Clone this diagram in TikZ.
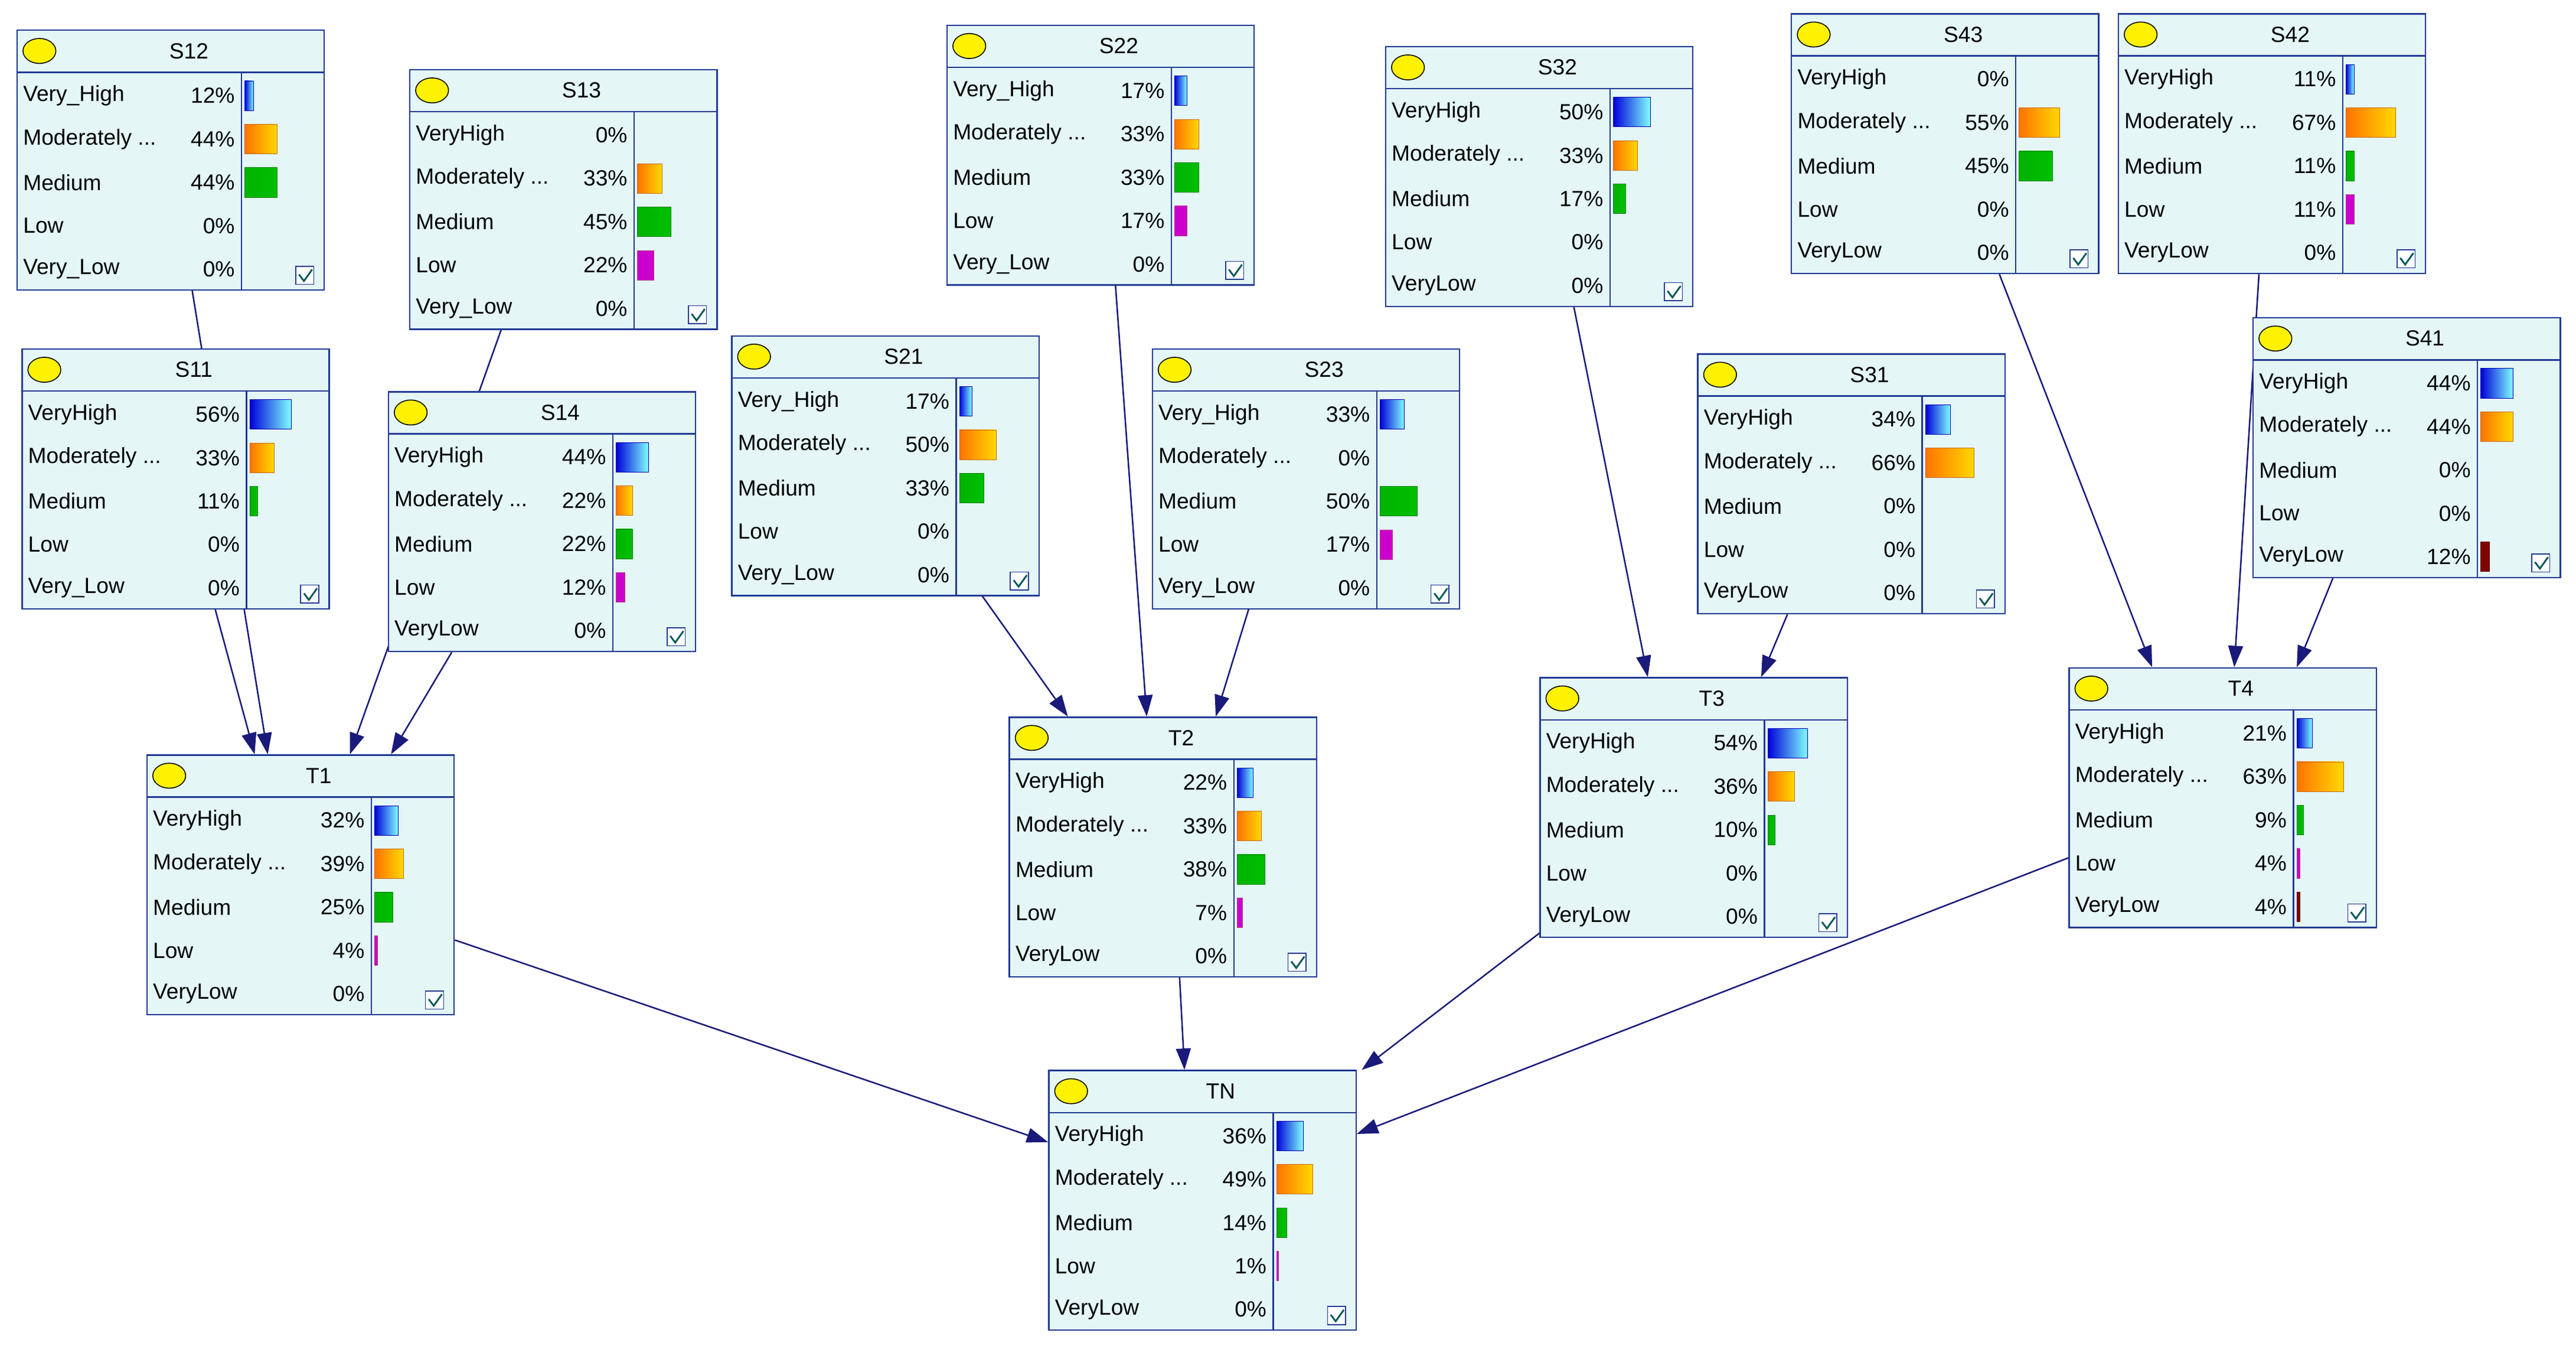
\documentclass[tikz,border=0pt]{standalone}
\usepackage{fontspec}
\setmainfont{Liberation Sans}
\usetikzlibrary{arrows.meta,calc,backgrounds}
\definecolor{bg}{HTML}{E4F6F6}
\definecolor{bd}{HTML}{1F3A93}
\definecolor{edgec}{HTML}{1A1A7A}
\newcommand\modl{Moderately ...}
\tikzset{
 x=0.05cm,y=-0.05cm,
 box/.style={draw=bd, line width=1.2pt, fill=bg, minimum width=9.35cm, minimum height=7.9cm, anchor=north west, inner sep=0},
 lab/.style={font=\fontsize{19}{23}\selectfont, inner sep=0},
 edge/.style={draw=edgec, line width=1.3pt, -{Triangle[length=0.65cm,width=0.45cm]}},
 bar1/.style={left color=blue!85!black,right color=cyan!50,draw=blue!70!black},
 bar2/.style={left color=orange!90!red,right color=yellow!70!orange,draw=orange!80!black},
 bar3/.style={left color=green!70!black,right color=green!75!black,draw=green!50!black},
 bar4/.style={left color=magenta!80!black,right color=magenta!80!black,draw=magenta!70!black},
 bar5/.style={left color=red!50!black,right color=red!50!black,draw=red!40!black},
}
\newcommand\bnnode[5]{%
 \node[box] (#1) at (#2,#3) {};
 \begin{scope}[shift={(#2,#3)}]
  \draw[bd,line width=1.2pt] (0,26)--(187,26) (137,26)--(137,158);
  \draw[fill=yellow, draw=black, line width=0.8pt] (14,13) ellipse [x radius=0.5cm, y radius=0.38cm];
  \node[lab] at (105,13) {#4};
  \foreach \l/\p [count=\i] in {#5} {
    \pgfmathsetmacro\yy{27+(\i-0.5)*26.4}
    \node[lab,anchor=west] at (4,\yy) {\l};
    \node[lab,anchor=east] at (133,\yy) {\p\%};
    \ifnum\p>0
      \pgfmathsetmacro\w{max(\p*0.45,1.2)}
      \begingroup\edef\x{\noexpand\path[bar\i]}\x (139,\yy-9) rectangle ++(\w,18);\endgroup
    \fi
  }
  \draw[bd,fill=white,line width=0.8pt] (170,144) rectangle (181,155);
  \draw[teal!70!black,line width=1.5pt] (172,149)--(175,153)--(180,146);
 \end{scope}}
\begin{document}
\begin{tikzpicture}
\useasboundingbox (0,0) rectangle (1568,819);
\bnnode{S12}{10}{18}{S12}{Very\_High/12,\modl/44,Medium/44,Low/0,Very\_Low/0}
\bnnode{S11}{13}{212}{S11}{VeryHigh/56,\modl/33,Medium/11,Low/0,Very\_Low/0}
\bnnode{S13}{249}{42}{S13}{VeryHigh/0,\modl/33,Medium/45,Low/22,Very\_Low/0}
\bnnode{S14}{236}{238}{S14}{VeryHigh/44,\modl/22,Medium/22,Low/12,VeryLow/0}
\bnnode{T1}{89}{459}{T1}{VeryHigh/32,\modl/39,Medium/25,Low/4,VeryLow/0}
\bnnode{S22}{576}{15}{S22}{Very\_High/17,\modl/33,Medium/33,Low/17,Very\_Low/0}
\bnnode{S21}{445}{204}{S21}{Very\_High/17,\modl/50,Medium/33,Low/0,Very\_Low/0}
\bnnode{S23}{701}{212}{S23}{Very\_High/33,\modl/0,Medium/50,Low/17,Very\_Low/0}
\bnnode{T2}{614}{436}{T2}{VeryHigh/22,\modl/33,Medium/38,Low/7,VeryLow/0}
\bnnode{S32}{843}{28}{S32}{VeryHigh/50,\modl/33,Medium/17,Low/0,VeryLow/0}
\bnnode{S31}{1033}{215}{S31}{VeryHigh/34,\modl/66,Medium/0,Low/0,VeryLow/0}
\bnnode{T3}{937}{412}{T3}{VeryHigh/54,\modl/36,Medium/10,Low/0,VeryLow/0}
\bnnode{S43}{1090}{8}{S43}{VeryHigh/0,\modl/55,Medium/45,Low/0,VeryLow/0}
\bnnode{S42}{1289}{8}{S42}{VeryHigh/11,\modl/67,Medium/11,Low/11,VeryLow/0}
\bnnode{S41}{1371}{193}{S41}{VeryHigh/44,\modl/44,Medium/0,Low/0,VeryLow/12}
\bnnode{T4}{1259}{406}{T4}{VeryHigh/21,\modl/63,Medium/9,Low/4,VeryLow/4}
\bnnode{TN}{638}{651}{TN}{VeryHigh/36,\modl/49,Medium/14,Low/1,VeryLow/0}
\begin{pgfonlayer}{background}
\fill[white] (0,0) rectangle (1568,819);
\path[edge] ($(S12.south west)+(107,0)$) -- ($(T1.north west)+(74,0)$);
\path[edge] ($(S11.south west)+(118,0)$) -- ($(T1.north west)+(66,0)$);
\path[edge] ($(S13.south west)+(56,0)$) -- ($(T1.north west)+(124,0)$);
\path[edge] ($(S14.south west)+(39,0)$) -- ($(T1.north west)+(149,0)$);
\path[edge] ($(S21.south west)+(153,0)$) -- ($(T2.north west)+(36,0)$);
\path[edge] ($(S22.south west)+(103,0)$) -- ($(T2.north west)+(84,0)$);
\path[edge] ($(S23.south west)+(59,0)$) -- ($(T2.north west)+(126,0)$);
\path[edge] ($(S32.south west)+(115,0)$) -- ($(T3.north west)+(66,0)$);
\path[edge] ($(S31.south west)+(55,0)$) -- ($(T3.north west)+(135,0)$);
\path[edge] ($(S43.south west)+(127,0)$) -- ($(T4.north west)+(51,0)$);
\path[edge] ($(S42.south west)+(86,0)$) -- ($(T4.north west)+(101,0)$);
\path[edge] ($(S41.south west)+(49,0)$) -- ($(T4.north west)+(139,0)$);
\path[edge] ($(T1.north east)+(0,113)$) -- ($(TN.north west)+(0,44)$);
\path[edge] ($(T2.south west)+(104,0)$) -- ($(TN.north west)+(83,0)$);
\path[edge] ($(T3.south west)+(0,-3)$) -- ($(TN.north east)+(3,0)$);
\path[edge] ($(T4.north west)+(0,116)$) -- ($(TN.north east)+(0,39)$);
\end{pgfonlayer}
\end{tikzpicture}
\end{document}
